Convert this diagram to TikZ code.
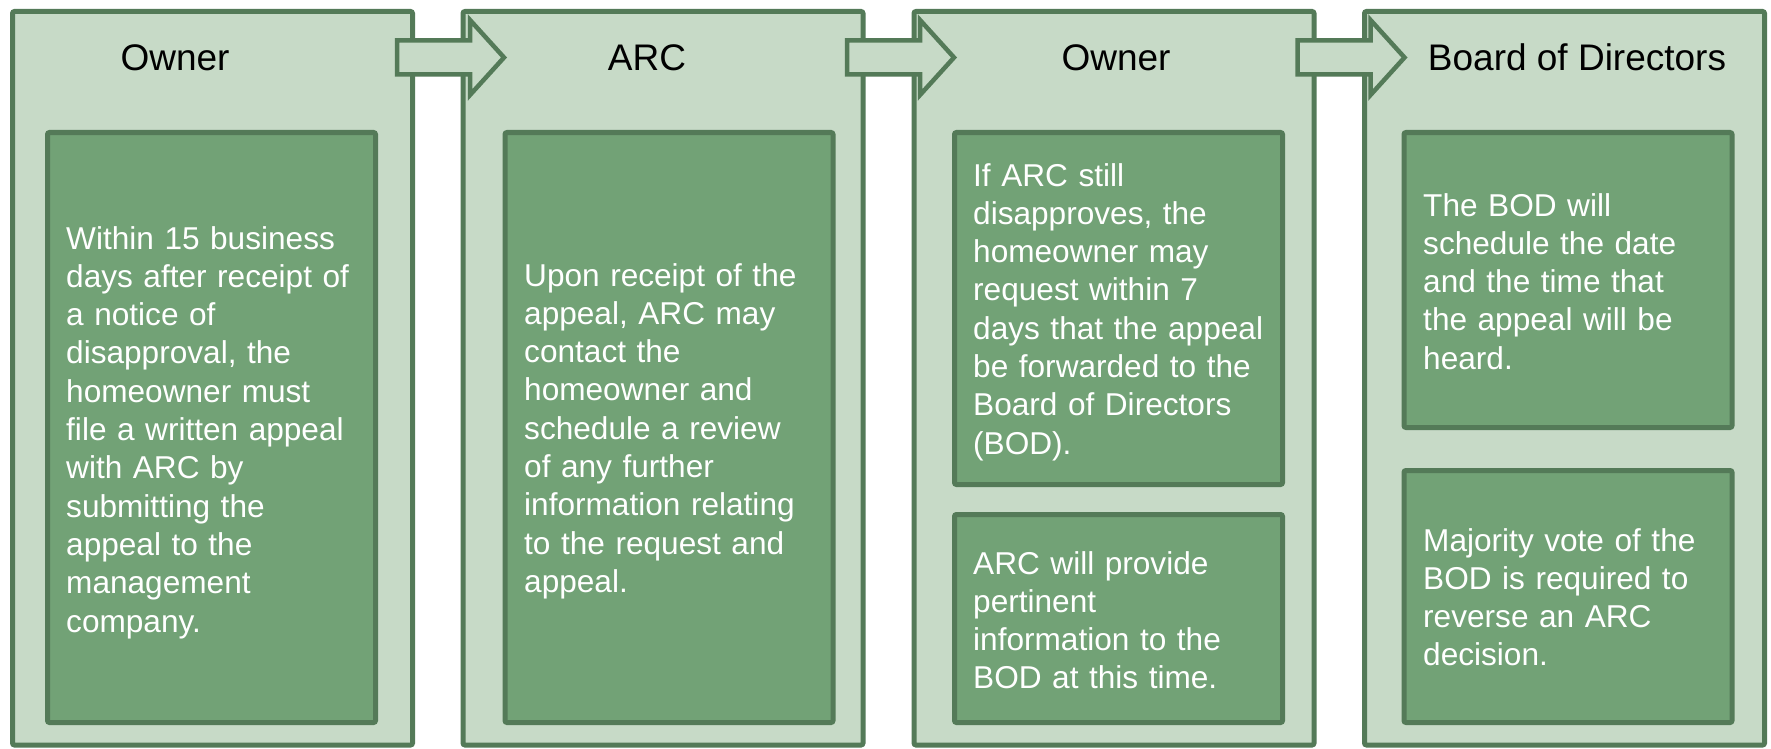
\documentclass[tikz,border=0pt]{standalone}
\usepackage{fontspec}
\setmainfont{Liberation Sans}
\definecolor{lightg}{RGB}{199,218,199}
\definecolor{midg}{RGB}{114,162,118}
\definecolor{darkg}{RGB}{84,122,88}
\begin{document}
\begin{tikzpicture}[x=1pt,y=-1pt,
  outerbox/.style={draw=darkg, fill=lightg, line width=5pt, rounded corners=2pt, inner sep=0pt, minimum width=400pt, minimum height=733.5pt},
  innerbox/.style={draw=darkg, fill=midg, line width=5pt, rounded corners=2pt, inner sep=0pt, minimum width=328pt},
  barrow/.style={draw=darkg, fill=lightg, line width=4.5pt, line join=miter},
  head/.style={anchor=base, inner sep=0pt, text=black, font=\fontsize{37}{44}\selectfont},
  body/.style={anchor=base west, inner sep=0pt, text=white, align=left, text width=320pt, font=\fontsize{31.6}{38.3}\selectfont}]
\path[use as bounding box, fill=white] (0,0) rectangle (1771,749);
% outer columns
\node[outerbox] (o1) at (212.5,378.25) {};
\node[outerbox] (o2) at (663,378.25) {};
\node[outerbox] (o3) at (1114,378.25) {};
\node[outerbox] (o4) at (1564.5,378.25) {};
% block arrows
\foreach \L in {397,847,1297.5}{
  \draw[barrow] (\L,40.5) -- ++(73,0) -- ++(0,-20.5) -- ++(34,37.5) -- ++(-34,37.5) -- ++(0,-20.5) -- ++(-73,0) -- cycle;
}
% headers
\node[head] (h1) at (175,71) {Owner};
\node[head] (h2) at (647,71) {ARC};
\node[head] (h3) at (1116,71) {Owner};
\node[head] (h4) at (1577,71) {Board of Directors};
% inner boxes
\node[innerbox, minimum height=590pt] (b1) at (211.5,427.5) {};
\node[innerbox, minimum height=590pt] (b2) at (669,427.5) {};
\node[innerbox, minimum height=352pt] (b3a) at (1118.5,308.5) {};
\node[innerbox, minimum height=208pt] (b3b) at (1118.5,618.5) {};
\node[innerbox, minimum height=295pt] (b4a) at (1568,280) {};
\node[innerbox, minimum height=252pt] (b4b) at (1568,596.5) {};
% texts
\node[body] (t1) at (66,249) {Within 15 business\\days after receipt of\\a notice of\\disapproval, the\\homeowner must\\file a written appeal\\with ARC by\\submitting the\\appeal to the\\management\\company.};
\node[body] (t2) at (524,286) {Upon receipt of the\\appeal, ARC may\\contact the\\homeowner and\\schedule a review\\of any further\\information relating\\to the request and\\appeal.};
\node[body] (t3a) at (973,186) {If ARC still\\disapproves, the\\homeowner may\\request within 7\\days that the appeal\\be forwarded to the\\Board of Directors\\(BOD).};
\node[body] (t3b) at (973,574) {ARC will provide\\pertinent\\information to the\\BOD at this time.};
\node[body] (t4a) at (1423,216) {The BOD will\\schedule the date\\and the time that\\the appeal will be\\heard.};
\node[body] (t4b) at (1423,551) {Majority vote of the\\BOD is required to\\reverse an ARC\\decision.};
\end{tikzpicture}
\end{document}
